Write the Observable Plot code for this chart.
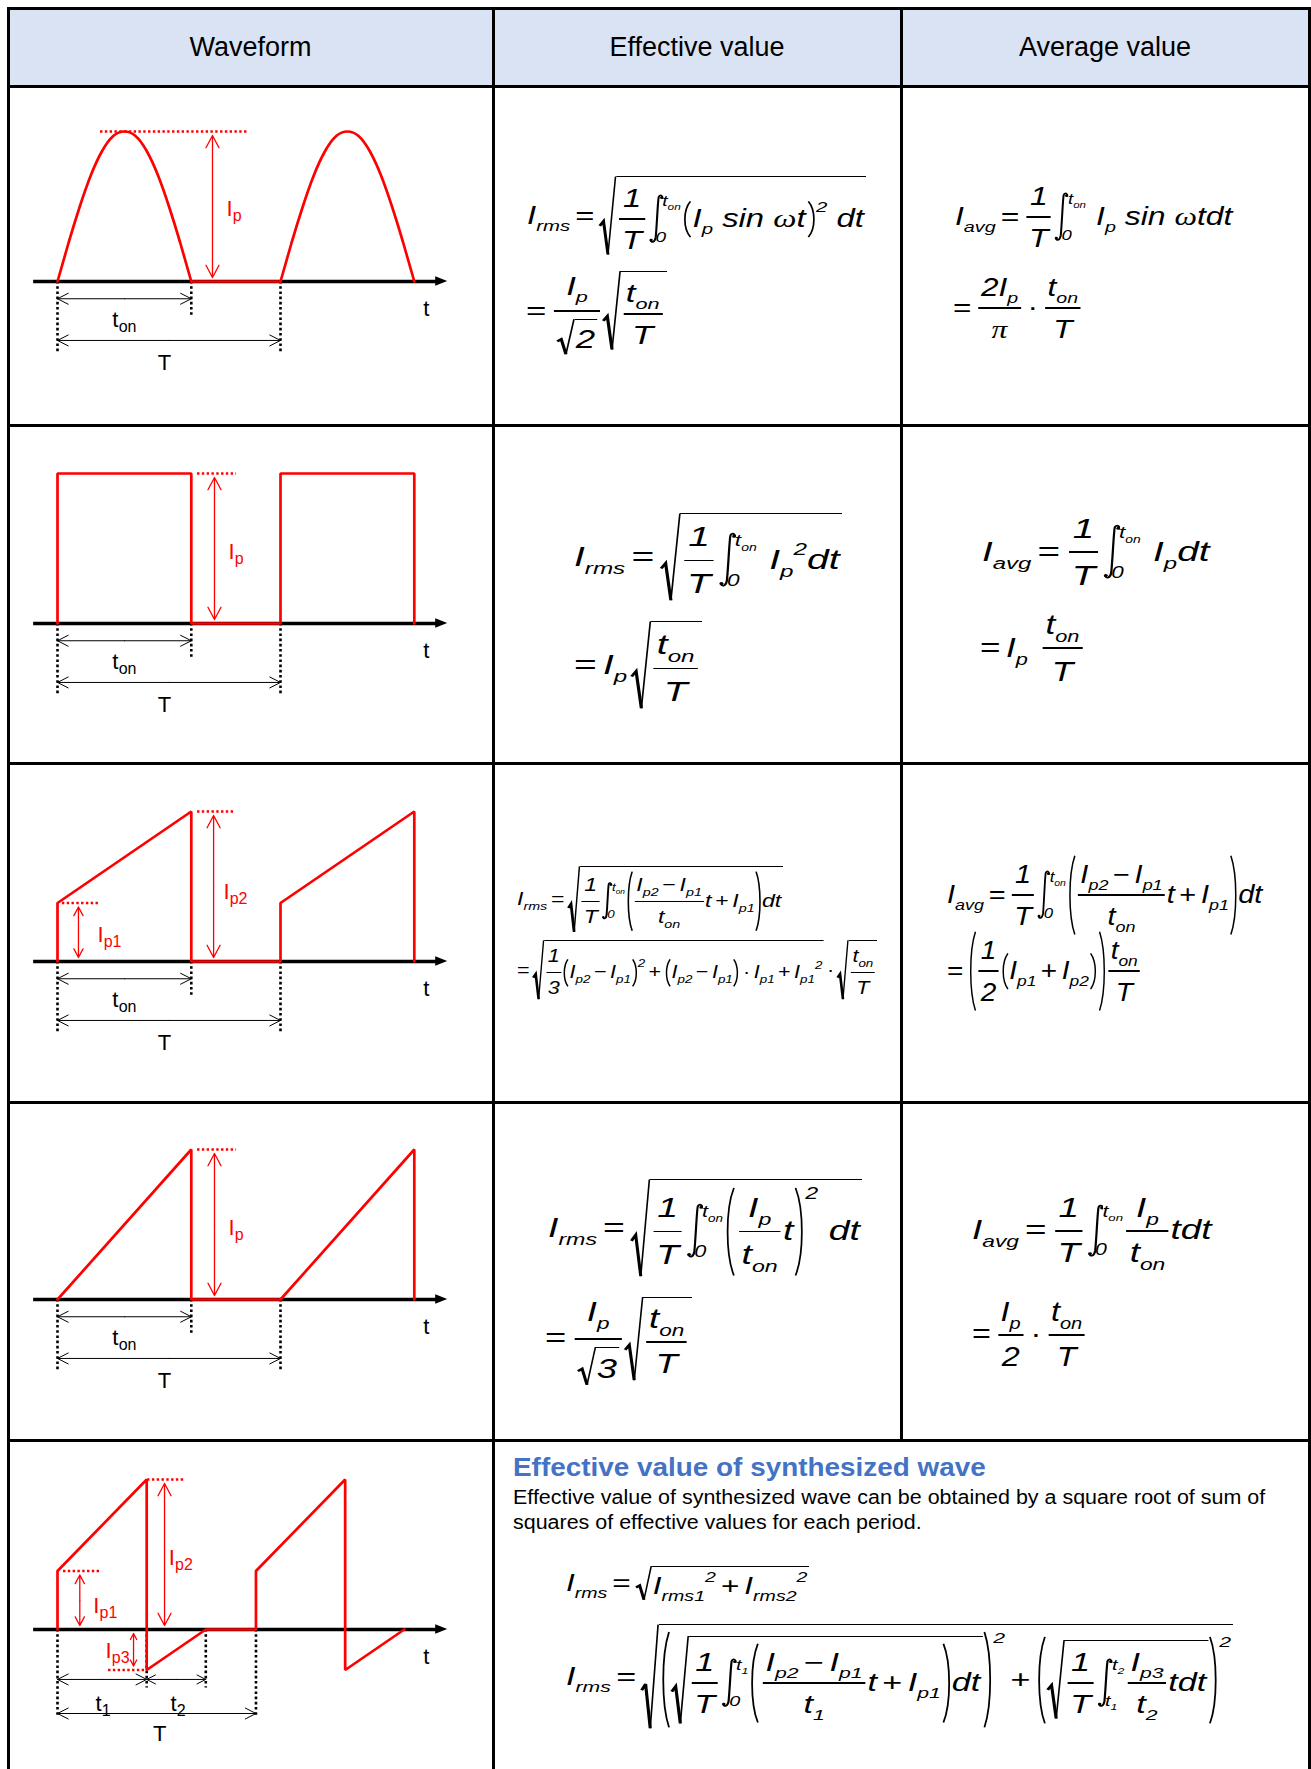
<!DOCTYPE html>
<html><head><meta charset="utf-8">
<script src="https://cdn.jsdelivr.net/npm/d3@7"></script>
<script src="https://cdn.jsdelivr.net/npm/@observablehq/plot@0.6"></script>
<style>
body{margin:0;background:#fff}
#root{position:relative;width:1311px;height:1769px;overflow:hidden;background:#fff;font-family:"Liberation Sans",Arial,sans-serif}
.ln{position:absolute;background:#000;z-index:5}
.hd{position:absolute;background:#dae3f3;display:flex;align-items:center;justify-content:center;font-size:27px;color:#000}
.wf{position:absolute;left:0}
.wf svg{background:transparent!important}
.fl{position:absolute;display:flex;align-items:center;font-family:"Liberation Sans",Arial,sans-serif;font-style:italic;white-space:nowrap;line-height:1;transform-origin:0 0;color:#000}
.fl span{box-sizing:border-box}
.a{display:block;line-height:1.1}
.sb{font-size:.62em;vertical-align:-.45em;line-height:0}
.sp{font-size:.62em;vertical-align:.8em;line-height:0}
.op{display:block;font-style:normal;margin:0 .16em;line-height:1.1}
.fl>.op:first-child{margin-left:0}
.fr{display:inline-flex;flex-direction:column;align-items:stretch;margin:0 .06em}
.nu,.dn{display:flex;align-items:center;justify-content:center;padding:0 .08em}
.nu{padding-bottom:.2em}
.dn{padding-top:.28em}
.fb{display:block;height:1.3px;background:#000}
.sq{display:inline-flex;align-items:stretch}
.rad{position:relative;flex:none;width:.5em;display:block}
.rad svg,.pl svg{position:absolute;left:0;top:0;width:100%;height:100%;overflow:visible}
.rc{display:inline-flex;align-items:center;border-top:1.3px solid #000;padding:.24em .06em .04em .04em}
.pl{position:relative;flex:none;width:.3em;display:block}
.pc{display:inline-flex;align-items:center;padding:.18em .02em}
.grp{display:inline-flex;align-items:flex-start}
.ps{display:block;font-size:.62em;margin-top:-.1em;line-height:1}
.ig{display:inline-flex;height:2em;align-items:stretch;margin:0 .04em 0 .06em}
.isv{width:.44em;height:100%;display:block;flex:none}
.lm{display:flex;flex-direction:column;justify-content:space-between;font-size:.58em;line-height:1;margin-left:-.05em}
.lo{display:block;margin-left:-.35em}
.hi{display:block}
.gr{font-family:"Liberation Serif",serif;font-style:italic}
.tx{position:absolute;white-space:nowrap;transform-origin:0 0}
.sg{margin-right:.08em}
</style></head><body><div id="root"></div>
<script>
// ---------- DATA ----------
const HEADERS = ["Waveform", "Effective value", "Average value"];

// Row 1: half-sine pulses (time in units where T = 10, current in units of Ip)
const pulse1Time = [0,0.5,1,1.5,2,2.5,3,3.5,4,4.5,5,5.5,6];
const pulse1Curr = [0,0.26,0.5,0.71,0.87,0.97,1,0.97,0.87,0.71,0.5,0.26,0];
const offTime = [6,10];
const offCurr = [0,0];
const pulse2Time = [10,10.5,11,11.5,12,12.5,13,13.5,14,14.5,15,15.5,16];
const pulse2Curr = [0,0.26,0.5,0.71,0.87,0.97,1,0.97,0.87,0.71,0.5,0.26,0];

// Row 2: square
const sqTime = [0,0,6,6,10,10,16,16];
const sqCurr = [0,1,1,0,0,1,1,0];
// Row 3: trapezoid (Ip1 -> Ip2)
const trTime = [0,0,6,6,10,10,16,16];
const trCurr = [0,0.39,1,0,0,0.39,1,0];
// Row 4: sawtooth
const swTime = [0,6,6,10,16,16];
const swCurr = [0,1,0,0,1,0];
// Row 5: synthesized
const synTime = [0,0,4,4,6.65,8.9,8.9,12.9,12.9,15.55];
const synCurr = [0,0.39,1,-0.27,0,0,0.39,1,-0.27,0];

const T_ON = 6, PERIOD = 10;            // rows 1-4
const T1 = 4, T2 = 2.65, PERIOD5 = 8.9;  // row 5
const IP = 1, IP1 = 0.39, IP3 = -0.27;

const NOTE_TITLE = "Effective value of synthesized wave";
const NOTE_LINES = ["Effective value of synthesized wave can be obtained by a square root of sum of", "squares of effective values for each period."];

// ---------- LAYOUT ----------
const root = document.getElementById("root");
const XL = [8, 493, 901, 1309];
const YL = [8, 86, 425, 763, 1102, 1440, 1790];
const AXIS_Y = [281, 623, 961, 1299, 1629];
const FONT = "Liberation Sans, Arial, sans-serif";
const LW = 3;

function div(cls, css, html) {
  const d = document.createElement("div");
  d.className = cls; Object.assign(d.style, css);
  if (html != null) d.innerHTML = html;
  root.appendChild(d); return d;
}
HEADERS.forEach((h, i) => div("hd", {left: XL[i] + "px", top: YL[0] + "px", width: (XL[i+1]-XL[i]) + "px", height: (YL[1]-YL[0]) + "px"}, h));
YL.slice(0, 6).forEach(y => div("ln", {left: (XL[0]-1.5)+"px", top: (y-1.5)+"px", width: (XL[3]-XL[0]+3)+"px", height: LW+"px"}));
[XL[0], XL[1], XL[3]].forEach(x => div("ln", {left: (x-1.5)+"px", top: (YL[0]-1.5)+"px", width: LW+"px", height: "1800px"}));
div("ln", {left: (XL[2]-1.5)+"px", top: (YL[0]-1.5)+"px", width: LW+"px", height: (YL[5]-YL[0]+3)+"px"});

// ---------- WAVEFORMS ----------
const AX_START = -1.07, AX_END = 17.5, HEAD_L = 0.54, HEAD_W = 0.031;
function rows(t, c) { return t.map((v, k) => ({t: v, c: c[k]})); }

function wave(i, cfg) {
  const top = YL[i+1], h = Math.min(YL[i+2], 1769) - top, a = AXIS_Y[i] - top;
  const dimArrows = cfg.dims.flatMap(d => [{x1:(d.a+d.b)/2, x2:d.a, y:d.y}, {x1:(d.a+d.b)/2, x2:d.b, y:d.y}]);
  const redArrows = cfg.reds.flatMap(d => [{x:d.x, y1:d.v/2, y2:0}, {x:d.x, y1:d.v/2, y2:d.v}]);
  const txt = (data, fill) => [
    Plot.text(data, {x:"x", y:"y", text:"m", textAnchor:"start", lineAnchor:"bottom", fontSize:22, fill, fontFamily:FONT}),
    Plot.text(data, {x:"x", y:"y", text:"s", textAnchor:"start", lineAnchor:"bottom", fontSize:16, fill, dx:6.3, dy:5, fontFamily:FONT})
  ];
  const chart = Plot.plot({
    width: 493, height: h, margin: 0,
    style: {background: "transparent", overflow: "visible", fontFamily: FONT},
    x: {type: "linear", domain: [0, 10], range: [57, 280], axis: null},
    y: {type: "linear", domain: [0, 1], range: [a, a - 150], axis: null},
    marks: [
      Plot.ruleY([0], {x1: AX_START, x2: AX_END - HEAD_L + 0.05, stroke: "#000", strokeWidth: 3.3}),
      Plot.areaY([{x: AX_END - HEAD_L, lo: -HEAD_W, hi: HEAD_W}, {x: AX_END, lo: 0, hi: 0}], {x: "x", y1: "lo", y2: "hi", fill: "#000"}),
      Plot.ruleX(cfg.dots, {x: "x", y1: 0, y2: "d", stroke: "#000", strokeWidth: 2.6, strokeDasharray: "2.6,2.6"}),
      Plot.arrow(dimArrows, {x1: "x1", x2: "x2", y1: "y", y2: "y", stroke: "#000", strokeWidth: 1, headLength: 18, headAngle: 54}),
      Plot.ruleY(cfg.refs, {y: "y", x1: "x1", x2: "x2", stroke: "#ff0000", strokeWidth: 2.4, strokeDasharray: "2.4,2.4"}),
      Plot.arrow(redArrows, {x1: "x", x2: "x", y1: "y1", y2: "y2", stroke: "#ff0000", strokeWidth: 1.3, headLength: 16, headAngle: 56, insetEnd: 4}),
      ...cfg.lines.map(l => Plot.line(rows(l.t, l.c), {x: "t", y: "c", stroke: "#ff0000", strokeWidth: 2.7, curve: l.curve || "linear", strokeLinejoin: "miter"})),
      ...txt(cfg.blk, "#000"),
      ...txt(cfg.red, "#ff0000")
    ]
  });
  const w = div("wf", {top: top + "px"});
  w.appendChild(chart);
}

const std = (refs, reds, red) => ({
  dots: [{x: 0, d: -0.48}, {x: T_ON, d: -0.24}, {x: PERIOD, d: -0.48}],
  dims: [{a: 0, b: T_ON, y: -0.115}, {a: 0, b: PERIOD, y: -0.393}],
  blk: [{x: T_ON/2 - 0.54, y: -0.30, m: "t", s: "on"}, {x: PERIOD/2 - 0.5, y: -0.59, m: "T", s: ""}, {x: 16.4, y: -0.23, m: "t", s: ""}],
  refs, reds, red
});

wave(0, {...std([{y: IP, x1: 1.93, x2: 8.5}], [{x: 6.95, v: IP}], [{x: 7.58, y: 0.44, m: "I", s: "p"}]),
  lines: [{t: pulse1Time, c: pulse1Curr, curve: "natural"}, {t: offTime, c: offCurr}, {t: pulse2Time, c: pulse2Curr, curve: "natural"}]});
wave(1, {...std([{y: IP, x1: 6.28, x2: 8.03}], [{x: 7.04, v: IP}], [{x: 7.67, y: 0.43, m: "I", s: "p"}]),
  lines: [{t: sqTime, c: sqCurr}]});
wave(2, {...std([{y: IP, x1: 6.28, x2: 8.0}, {y: IP1, x1: 0.22, x2: 1.93}], [{x: 7.0, v: IP}, {x: 0.94, v: IP1}],
  [{x: 7.44, y: 0.42, m: "I", s: "p2"}, {x: 1.79, y: 0.127, m: "I", s: "p1"}]),
  lines: [{t: trTime, c: trCurr}]});
wave(3, {...std([{y: IP, x1: 6.28, x2: 8.03}], [{x: 7.04, v: IP}], [{x: 7.67, y: 0.43, m: "I", s: "p"}]),
  lines: [{t: swTime, c: swCurr}]});
wave(4, {
  dots: [{x: 0, d: -0.587}, {x: T1, d: -0.39}, {x: T1 + T2, d: -0.39}, {x: PERIOD5, d: -0.587}],
  dims: [{a: 0, b: T1, y: -0.333}, {a: T1, b: T1 + T2, y: -0.333}, {a: 0, b: PERIOD5, y: -0.56}],
  blk: [{x: 1.7, y: -0.54, m: "t", s: "1"}, {x: 5.07, y: -0.54, m: "t", s: "2"}, {x: 4.28, y: -0.74, m: "T", s: ""}, {x: 16.4, y: -0.227, m: "t", s: ""}],
  refs: [{y: IP1, x1: 0.27, x2: 1.93}, {y: IP, x1: 4.04, x2: 5.74}, {y: IP3, x1: 2.29, x2: 4.04}],
  reds: [{x: 1.0, v: IP1}, {x: 4.8, v: IP}, {x: 3.41, v: IP3}],
  red: [{x: 1.6, y: 0.113, m: "I", s: "p1"}, {x: 4.99, y: 0.427, m: "I", s: "p2"}, {x: 2.15, y: -0.193, m: "I", s: "p3"}],
  lines: [{t: synTime, c: synCurr}]
});

// ---------- FORMULAS ----------
const A = h => `<span class="a">${h}</span>`;
const sb = s => `<span class="sb">${s}</span>`;
const sp = s => `<span class="sp">${s}</span>`;
const op = s => `<span class="op${s === "=" ? " eq" : ""}">${s}</span>`;
const fr = (n, d) => `<span class="fr"><span class="nu">${n}</span><span class="fb"></span><span class="dn">${d}</span></span>`;
const NS = `vector-effect="non-scaling-stroke"`;
const RAD = `<span class="rad"><svg viewBox="0 0 10 100" preserveAspectRatio="none"><path d="M0.3,63 L2.6,57 L5.3,99" fill="none" stroke="#000" stroke-width="2.3" ${NS}/><path d="M5.3,99 L9.9,0.6" fill="none" stroke="#000" stroke-width="1.2" ${NS}/></svg></span>`;
const sq = c => `<span class="sq">${RAD}<span class="rc">${c}</span></span>`;
const LP = `<span class="pl"><svg viewBox="0 0 10 100" preserveAspectRatio="none"><path d="M8.5,1 C1,25 1,75 8.5,99" fill="none" stroke="#000" stroke-width="1.3" ${NS}/></svg></span>`;
const RP = `<span class="pl"><svg viewBox="0 0 10 100" preserveAspectRatio="none"><path d="M1.5,1 C9,25 9,75 1.5,99" fill="none" stroke="#000" stroke-width="1.3" ${NS}/></svg></span>`;
const par = c => `<span class="sq">${LP}<span class="pc">${c}</span>${RP}</span>`;
const pw = (c, e) => `<span class="grp">${par(c)}<span class="ps">${e}</span></span>`;
const INT = `<svg class="isv" viewBox="0 0 10 44" preserveAspectRatio="none"><path d="M9.2,4 C9.4,1.2 7.4,0.2 6.6,2.6 C6,4.5 5.3,28 4.5,38 C4,42.5 1.6,43.4 0.9,40.6" fill="none" stroke="#000" stroke-width="1.6" ${NS}/><circle cx="8.7" cy="3.3" r="1.2"/><circle cx="1.3" cy="40.5" r="1.2"/></svg>`;
const ig = (lo, hi) => `<span class="ig">${INT}<span class="lm"><span class="hi">${hi}</span><span class="lo">${lo}</span></span></span>`;
const gr = s => `<span class="gr">${s}</span>`;

const ton = `t${sb("on")}`;
const Ip = A(`I${sb("p")}`), Ip1 = A(`I${sb("p1")}`), Ip2 = A(`I${sb("p2")}`), Ip3 = A(`I${sb("p3")}`);
const IpG = `<span class="a sg">I${sb("p")}</span>`;
const Irms = A(`I${sb("rms")}`), Iavg = A(`I${sb("avg")}`);
const oneT = fr(A("1"), A("T")), tonT = fr(A(ton), A("T"));
const slope = (t) => fr(Ip2 + op("−") + Ip1, A(t));

const FORMULAS = [
  [Irms + op("=") + sq(oneT + ig("0", ton) + pw(A(`I${sb("p")}&nbsp;sin&nbsp;${gr("ω")}t`), "2") + A("&nbsp;dt")), 527, 216, 866, 25],
  [op("=") + fr(Ip, sq(A("2"))) + sq(tonT), 526, 311, 667, 25],
  [Iavg + op("=") + oneT + ig("0", ton) + A(`&nbsp;I${sb("p")}&nbsp;sin&nbsp;${gr("ω")}tdt`), 955, 217, 1233, 25],
  [op("=") + fr(A(`2I${sb("p")}`), A(gr("π"))) + op("·") + tonT, 953, 308, 1083, 25],

  [Irms + op("=") + sq(oneT + ig("0", ton) + A(`&nbsp;I${sb("p")}${sp("2")}dt`)), 574, 557, 842, 28],
  [op("=") + IpG + sq(tonT), 574, 665, 702, 28],
  [Iavg + op("=") + oneT + ig("0", ton) + A(`&nbsp;I${sb("p")}dt`), 982, 552, 1210, 28],
  [op("=") + IpG + A("&nbsp;") + tonT, 980, 648, 1084, 28],

  [Irms + op("=") + sq(oneT + ig("0", ton) + par(slope(ton) + A("t") + op("+") + Ip1) + A("dt")), 517, 899, 783, 19],
  [op("=") + sq(fr(A("1"), A("3")) + pw(Ip2 + op("−") + Ip1, "2") + op("+") + par(Ip2 + op("−") + Ip1) + op("·") + Ip1 + op("+") + A(`I${sb("p1")}${sp("2")}`)) + op("·") + sq(tonT), 517, 970, 877, 19],
  [Iavg + op("=") + oneT + ig("0", ton) + par(slope(ton) + A("t") + op("+") + Ip1) + A("dt"), 947, 895, 1262, 25],
  [op("=") + par(fr(A("1"), A("2")) + par(Ip1 + op("+") + Ip2)) + tonT, 947, 971, 1142, 25],

  [Irms + op("=") + sq(oneT + ig("0", ton) + pw(fr(Ip, A(ton)) + A("t"), "2") + A("&nbsp;dt")), 548, 1228, 862, 28],
  [op("=") + fr(Ip, sq(A("3"))) + sq(tonT), 545, 1339, 692, 27],
  [Iavg + op("=") + oneT + ig("0", ton) + fr(Ip, A(ton)) + A("tdt"), 972, 1231, 1212, 27],
  [op("=") + fr(Ip, A("2")) + op("·") + tonT, 972, 1335, 1087, 27],

  [Irms + op("=") + sq(A(`I${sb("rms1")}${sp("2")}`) + op("+") + A(`I${sb("rms2")}${sp("2")}`)), 566, 1583, 809, 24],
  [Irms + op("=") + sq(pw(sq(oneT + ig("0", `t${sb("1")}`) + par(slope(`t${sb("1")}`) + A("t") + op("+") + Ip1) + A("dt")), "2") + op("+") +
     pw(sq(oneT + ig(`t${sb("1")}`, `t${sb("2")}`) + fr(Ip3, A(`t${sb("2")}`)) + A("tdt")), "2")), 566, 1677, 1233, 25]
];

for (const [html, x, y, r, fs] of FORMULAS) {
  const el = div("fl", {fontSize: fs + "px", left: x + "px", top: "0px"}, html);
  [...el.querySelectorAll(".fr")].reverse().forEach(f => {
    const nu = f.children[0], dn = f.children[2];
    const hh = Math.max(nu.offsetHeight, dn.offsetHeight);
    nu.style.minHeight = hh + "px"; dn.style.minHeight = hh + "px";
  });
  const er = el.getBoundingClientRect();
  const eq = el.querySelector(".eq").getBoundingClientRect();
  el.style.top = (y - (eq.top + eq.height / 2 - er.top)) + "px";
  el.style.transform = `scaleX(${(r - x) / el.offsetWidth})`;
}

// ---------- NOTE TEXT ----------
const tt = div("tx", {left: "513px", top: "1455px", fontSize: "25px", fontWeight: "bold", color: "#4472c4", lineHeight: "1"}, NOTE_TITLE);
tt.style.transform = `scaleX(${(986 - 513) / tt.offsetWidth})`;
const noteScale = [];
NOTE_LINES.forEach((s, k) => {
  const d = div("tx", {left: "513px", top: (1485 + 25 * k) + "px", fontSize: "20px", lineHeight: "25px", color: "#000"}, s);
  if (k === 0) noteScale.push((1265 - 513) / d.offsetWidth);
  d.style.transform = `scaleX(${noteScale[0]})`;
});
</script></body></html>
